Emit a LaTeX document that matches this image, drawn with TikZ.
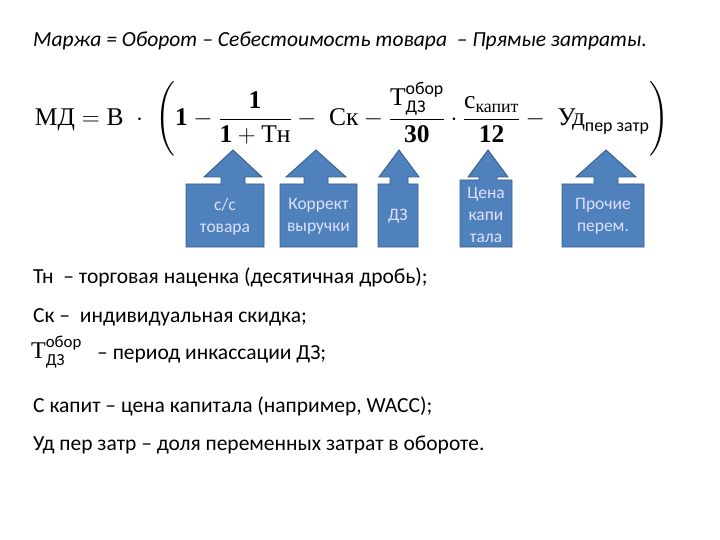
\documentclass[tikz,border=0pt]{standalone}
\usepackage{amsmath}
\usepackage{fontspec}
\setmainfont{Carlito}
\newfontfamily\fser{Liberation Serif}
\newcommand{\bn}[1]{\text{\fser\bfseries #1}}
\begin{document}
\begin{tikzpicture}[x=1pt,y=-1pt,
  txt/.style={anchor=base west,inner sep=0pt,font=\fontsize{21.5}{26}\selectfont},
  ctext/.style={text=white!88!blue,align=center,font=\fontsize{17.5}{22}\selectfont}]
\useasboundingbox (0,0) rectangle (720,540);
\definecolor{cb}{HTML}{4F81BD}\definecolor{cbd}{HTML}{385D8A}
\tikzset{call/.style={fill=cb,draw=cbd,line width=0.9pt}}
\node[txt,font=\fontsize{21.5}{26}\selectfont\itshape] (title) at (33,47) {Маржа = Оборот – Себестоимость товара~ – Прямые затраты.};
\node[inner sep=0pt,font=\fontsize{25.5}{30}\selectfont] (f) at (352,119)
{$\text{\fser МД} = \text{\fser В}\;\cdot\;\left(\bn{1}-\dfrac{\bn{1}}{\bn{1}+\text{\fser Тн}}-\;\text{\fser Ск}-\dfrac{\text{\fser Т}^{\text{обор}}_{\text{ДЗ}}}{\bn{30}}\cdot\dfrac{\text{\fser с}_{\text{\fser капит}}}{\bn{12}}-\;\text{\fser Уд}_{\text{пер затр}}\right)$};
\foreach \n/\a/\b/\t/\tip/\hw/\sw/\lab in {1/186/264/184/233/29/12/{с/с\\товара},2/280/357/184/316/30/12/{Коррект\\выручки},3/378/418/184/399/20/9/{ДЗ},4/460/512/180/488/20/9/{Цена\\капи\\тала},5/562/644/184/606/30/12/{Прочие\\перем.}}{
  \draw[call] (\a,247) -- (\a,\t) -- (\tip-\sw,\t) -- (\tip-\sw,177) -- (\tip-\hw,177) -- (\tip,150) -- (\tip+\hw,177) -- (\tip+\sw,177) -- (\tip+\sw,\t) -- (\b,\t) -- (\b,247) -- cycle;
  \node[ctext] (c\n) at ({(\a+\b)/2},{(\t+247)/2+1}) {\lab};
}
\node[txt] (l1) at (33,283) {Тн~ – торговая наценка (десятичная дробь);};
\node[txt] (l2) at (33,322) {Ск –~ индивидуальная скидка;};
\node[inner sep=0pt,anchor=west,font=\fontsize{24}{28}\selectfont] (l3a) at (31,352) {$\text{\fser Т}^{\text{обор}}_{\text{ДЗ}}$};
\node[txt] (l3) at (97,359) {– период инкассации ДЗ;};
\node[txt] (l4) at (33,412) {С капит – цена капитала (например, WACC);};
\node[txt] (l5) at (33,450) {Уд пер затр – доля переменных затрат в обороте.};
\end{tikzpicture}
\end{document}
